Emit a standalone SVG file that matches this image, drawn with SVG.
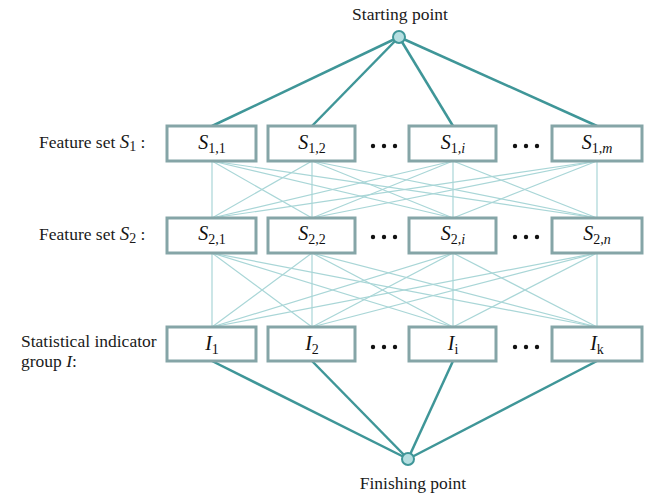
<svg xmlns="http://www.w3.org/2000/svg" width="647" height="496" viewBox="0 0 647 496">
<style>
.t{font-family:"Liberation Serif","Times New Roman","DejaVu Serif",serif;font-size:17.5px;fill:#1a1a1a}
.b{fill:#fff;stroke:#85a5a7;stroke-width:3}
.m{font-family:"Liberation Serif","Times New Roman","DejaVu Serif",serif;font-size:20px;fill:#111;text-anchor:middle}
.s{font-size:14px}
.i{font-style:italic}
.thick{stroke:#3f9698;stroke-width:2.5;fill:none}
.thin{stroke:#a9d6d7;stroke-width:1.2;fill:none}
.pt{fill:#b5dfe1;stroke:#3f9698;stroke-width:2}
.d{fill:#111}
</style>
<rect width="647" height="496" fill="#fff"/>
<g id="connectors">
<g class="thin">
<line x1="212" y1="161" x2="212" y2="218"/><line x1="212" y1="161" x2="312" y2="218"/><line x1="212" y1="161" x2="453" y2="218"/><line x1="212" y1="161" x2="597" y2="218"/>
<line x1="312" y1="161" x2="212" y2="218"/><line x1="312" y1="161" x2="312" y2="218"/><line x1="312" y1="161" x2="453" y2="218"/><line x1="312" y1="161" x2="597" y2="218"/>
<line x1="453" y1="161" x2="212" y2="218"/><line x1="453" y1="161" x2="312" y2="218"/><line x1="453" y1="161" x2="453" y2="218"/><line x1="453" y1="161" x2="597" y2="218"/>
<line x1="597" y1="161" x2="212" y2="218"/><line x1="597" y1="161" x2="312" y2="218"/><line x1="597" y1="161" x2="453" y2="218"/><line x1="597" y1="161" x2="597" y2="218"/>
<line x1="212" y1="253" x2="212" y2="327"/><line x1="212" y1="253" x2="312" y2="327"/><line x1="212" y1="253" x2="453" y2="327"/><line x1="212" y1="253" x2="597" y2="327"/>
<line x1="312" y1="253" x2="212" y2="327"/><line x1="312" y1="253" x2="312" y2="327"/><line x1="312" y1="253" x2="453" y2="327"/><line x1="312" y1="253" x2="597" y2="327"/>
<line x1="453" y1="253" x2="212" y2="327"/><line x1="453" y1="253" x2="312" y2="327"/><line x1="453" y1="253" x2="453" y2="327"/><line x1="453" y1="253" x2="597" y2="327"/>
<line x1="597" y1="253" x2="212" y2="327"/><line x1="597" y1="253" x2="312" y2="327"/><line x1="597" y1="253" x2="453" y2="327"/><line x1="597" y1="253" x2="597" y2="327"/>
</g>
<g class="thick">
<line x1="399" y1="37" x2="212" y2="126"/><line x1="399" y1="37" x2="312" y2="126"/><line x1="399" y1="37" x2="453" y2="126"/><line x1="399" y1="37" x2="597" y2="126"/>
<line x1="212" y1="361" x2="408" y2="459"/><line x1="312" y1="361" x2="408" y2="459"/><line x1="453" y1="361" x2="408" y2="459"/><line x1="597" y1="361" x2="408" y2="459"/>
</g>
</g>
<g id="start"><circle class="pt" cx="399" cy="37" r="6"/><text class="t" x="400" y="20" text-anchor="middle">Starting point</text></g>
<g id="finish"><circle class="pt" cx="408" cy="459" r="6"/><text class="t" x="413" y="489" text-anchor="middle">Finishing point</text></g>
<g id="label-s1"><text class="t" x="39" y="148">Feature set <tspan class="i" font-size="19">S</tspan><tspan class="s" dy="3">1</tspan><tspan dy="-3"> :</tspan></text></g>
<g id="label-s2"><text class="t" x="39" y="240">Feature set <tspan class="i" font-size="19">S</tspan><tspan class="s" dy="3">2</tspan><tspan dy="-3"> :</tspan></text></g>
<g id="label-i"><text class="t" x="21" y="347">Statistical indicator</text><text class="t" x="21" y="367">group <tspan class="i">I</tspan>:</text></g>
<g id="s11"><rect class="b" x="167" y="126" width="89" height="35"/><text class="m" x="212" y="149"><tspan class="i">S</tspan><tspan class="s" dy="4">1,1</tspan></text></g>
<g id="s12"><rect class="b" x="268" y="126" width="87" height="35"/><text class="m" x="312" y="149"><tspan class="i">S</tspan><tspan class="s" dy="4">1,2</tspan></text></g>
<g id="s1i"><rect class="b" x="409" y="126" width="87" height="35"/><text class="m" x="453" y="149"><tspan class="i">S</tspan><tspan class="s" dy="4">1,<tspan class="i">i</tspan></tspan></text></g>
<g id="s1m"><rect class="b" x="552" y="126" width="90" height="35"/><text class="m" x="597" y="149"><tspan class="i">S</tspan><tspan class="s" dy="4">1,<tspan class="i">m</tspan></tspan></text></g>
<g id="s21"><rect class="b" x="167" y="218" width="89" height="35"/><text class="m" x="212" y="240"><tspan class="i">S</tspan><tspan class="s" dy="4">2,1</tspan></text></g>
<g id="s22"><rect class="b" x="268" y="218" width="87" height="35"/><text class="m" x="312" y="240"><tspan class="i">S</tspan><tspan class="s" dy="4">2,2</tspan></text></g>
<g id="s2i"><rect class="b" x="409" y="218" width="87" height="35"/><text class="m" x="453" y="240"><tspan class="i">S</tspan><tspan class="s" dy="4">2,<tspan class="i">i</tspan></tspan></text></g>
<g id="s2n"><rect class="b" x="552" y="218" width="90" height="35"/><text class="m" x="597" y="240"><tspan class="i">S</tspan><tspan class="s" dy="4">2,<tspan class="i">n</tspan></tspan></text></g>
<g id="i1"><rect class="b" x="167" y="327" width="89" height="34"/><text class="m" x="212" y="350"><tspan class="i">I</tspan><tspan class="s" dy="4">1</tspan></text></g>
<g id="i2"><rect class="b" x="268" y="327" width="87" height="34"/><text class="m" x="312" y="350"><tspan class="i">I</tspan><tspan class="s" dy="4">2</tspan></text></g>
<g id="ii"><rect class="b" x="409" y="327" width="87" height="34"/><text class="m" x="453" y="350"><tspan class="i">I</tspan><tspan class="s" dy="4">i</tspan></text></g>
<g id="ik"><rect class="b" x="552" y="327" width="90" height="34"/><text class="m" x="597" y="350"><tspan class="i">I</tspan><tspan class="s" dy="4">k</tspan></text></g>
<g id="dots" class="d">
<circle cx="373" cy="146" r="2.2"/><circle cx="384" cy="146" r="2.2"/><circle cx="395" cy="146" r="2.2"/>
<circle cx="515" cy="146" r="2.2"/><circle cx="526" cy="146" r="2.2"/><circle cx="537" cy="146" r="2.2"/>
<circle cx="373" cy="237" r="2.2"/><circle cx="384" cy="237" r="2.2"/><circle cx="395" cy="237" r="2.2"/>
<circle cx="515" cy="237" r="2.2"/><circle cx="526" cy="237" r="2.2"/><circle cx="537" cy="237" r="2.2"/>
<circle cx="373" cy="347" r="2.2"/><circle cx="384" cy="347" r="2.2"/><circle cx="395" cy="347" r="2.2"/>
<circle cx="515" cy="347" r="2.2"/><circle cx="526" cy="347" r="2.2"/><circle cx="537" cy="347" r="2.2"/>
</g>
</svg>
